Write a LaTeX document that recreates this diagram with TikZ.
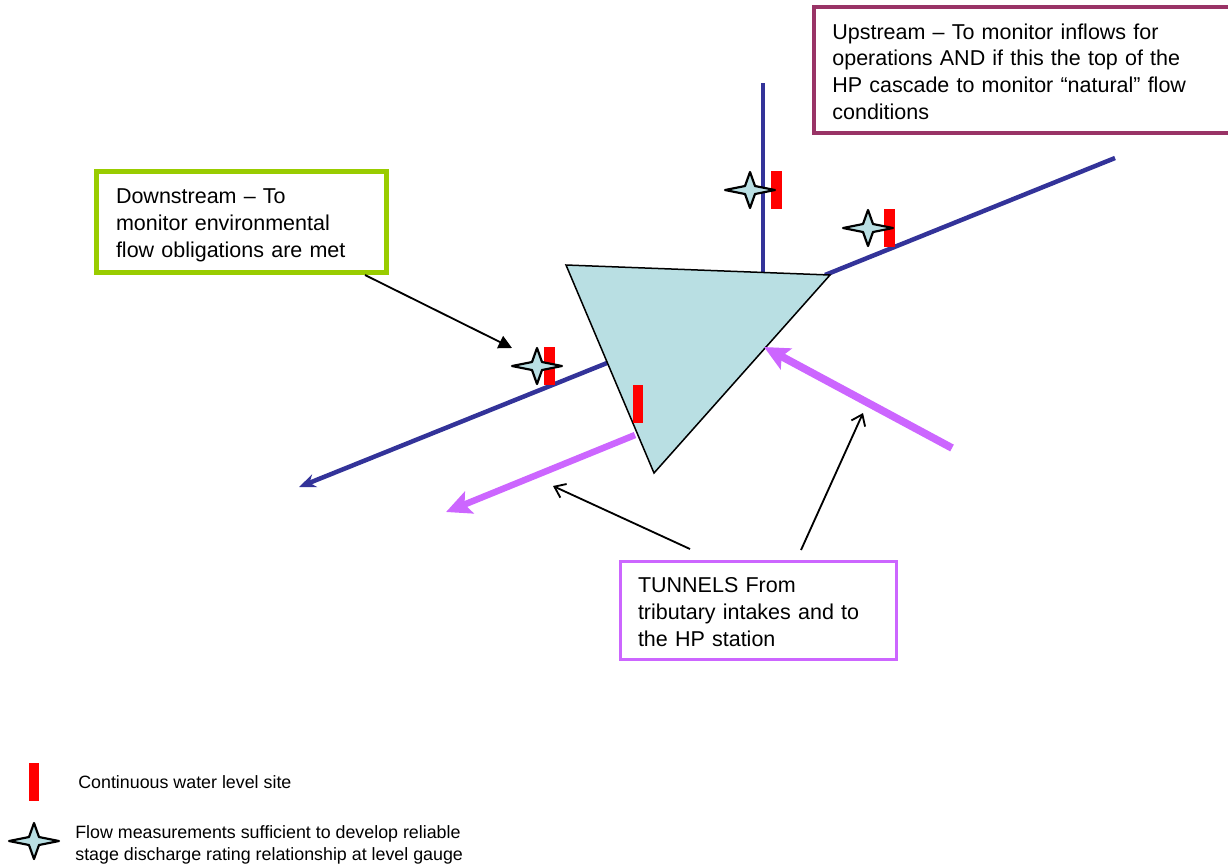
\documentclass[tikz,border=0pt]{standalone}
\usepackage{fontspec}
\setmainfont{Liberation Sans}
\usetikzlibrary{arrows.meta}
\definecolor{riverblue}{HTML}{333399}
\definecolor{tunnelpurple}{HTML}{CC66FF}
\definecolor{lakeblue}{HTML}{B9DFE3}
\definecolor{upstreamred}{HTML}{993366}
\definecolor{downgreen}{HTML}{99CC00}
\tikzset{
    flowstar/.pic={
        \draw[black, line width=1.3pt, fill=lakeblue, line join=round]
            (-25,0) -- (-5,-4) -- (0,-18) -- (5,-4) -- (25,0) -- (5,4) -- (0,18) -- (-5,4) -- cycle;
    }
}
\begin{document}
\begin{tikzpicture}[
                x=0.6pt, y=-0.6pt,
                river/.style={riverblue, line width=2.7pt},
                tunnel/.style={tunnelpurple, line width=4.6pt, -{Stealth[length=15pt, width=14pt, inset=3pt]}},
                note/.style={black, line width=1.1pt, -{Straight Barb[length=6pt, width=9pt]}},
                gauge/.style={rectangle, fill=red, inner sep=0pt, minimum width=6.3pt, minimum height=22.8pt},
                textbox/.style={rectangle, draw, fill=white, align=left, anchor=north west, outer sep=0pt, inner xsep=0pt, inner ysep=0pt, font=\fontsize{12.9}{16.1}\selectfont},
                legendtext/.style={align=left, anchor=west, inner sep=0pt, font=\fontsize{10.7}{13.2}\selectfont}
            ]
    \useasboundingbox (0,0) rectangle (1228,865);

    % rivers
    \coordinate (riverTop) at (763,83);
    \coordinate (riverTopEnd) at (763,272);
    \coordinate (riverUp) at (1115,158);
    \coordinate (riverUpEnd) at (825,275);
    \coordinate (riverDownStart) at (607,363);
    \coordinate (riverDown) at (299,487);
    \draw[river, line width=1.9pt] (riverTop) -- (riverTopEnd);
    \draw[river] (riverUp) -- (riverUpEnd);
    \draw[river, -{Stealth[length=10pt, width=8pt]}] (riverDownStart) -- (riverDown);

    % reservoir
    \coordinate (lakeA) at (566,265);
    \coordinate (lakeB) at (830,275);
    \coordinate (lakeC) at (654,473);
    \draw[black, line width=0.9pt, fill=lakeblue] (lakeA) -- (lakeB) -- (lakeC) -- cycle;

    % tunnels
    \coordinate (tunnelIn) at (952,448);
    \coordinate (tunnelInEnd) at (764,347);
    \coordinate (tunnelOut) at (635,435);
    \coordinate (tunnelOutEnd) at (446,512);
    \draw[tunnel] (tunnelIn) -- (tunnelInEnd);
    \draw[tunnel, line width=3.9pt] (tunnelOut) -- (tunnelOutEnd);

    % gauges
    \node[gauge] (gaugeTop) at (776.5,190) {};
    \node[gauge] (gaugeUp) at (889.5,228) {};
    \node[gauge] (gaugeDown) at (549.5,366) {};
    \node[gauge] (gaugeTunnel) at (638,404) {};
    \node[gauge] (gaugeKey) at (34,782) {};

    % stars
    \pic at (750,190) {flowstar};
    \pic at (868,228) {flowstar};
    \pic at (537,366) {flowstar};
    \pic at (34,841) {flowstar};

    % boxes
    \node[textbox, draw=upstreamred, line width=2pt, minimum width=252pt, minimum height=75.6pt, inner xsep=10.8pt, text width=230pt] (upstreamBox) at (814,7)
        {\rule{0pt}{11.4pt}Upstream -- To monitor inflows for\\operations AND if this the top of the\\HP cascade to monitor “natural” flow\\conditions};
    \node[textbox, draw=downgreen, line width=3pt, minimum width=174pt, minimum height=61pt, inner xsep=12pt, text width=150pt] (downstreamBox) at (96,171)
        {\rule{0pt}{12.9pt}Downstream -- To\\monitor environmental\\flow obligations are met};
    \node[textbox, draw=tunnelpurple, line width=1.8pt, minimum width=166pt, minimum height=59pt, inner xsep=10.8pt, text width=144.4pt] (tunnelBox) at (620,561)
        {\rule{0pt}{11.7pt}TUNNELS From\\tributary intakes and to\\the HP station};

    % pointers
    \coordinate (downTip) at (512,348);
    \coordinate (tunnelTipA) at (553,486);
    \coordinate (tunnelTipB) at (863,413);
    \coordinate (downFoot) at (365,275);
    \coordinate (tunnelFootA) at (690,549);
    \coordinate (tunnelFootB) at (801,550);
    \draw[note, -{Triangle[length=8pt, width=8pt]}] (downFoot) -- (downTip);
    \draw[note] (tunnelFootA) -- (tunnelTipA);
    \draw[note] (tunnelFootB) -- (tunnelTipB);

    % key
    \node[legendtext] (keyGauge) at (78,782) {Continuous water level site};
    \node[legendtext] (keyStar) at (75,845) {Flow measurements sufficient to develop reliable\\stage discharge rating relationship at level gauge};
\end{tikzpicture}
\end{document}
